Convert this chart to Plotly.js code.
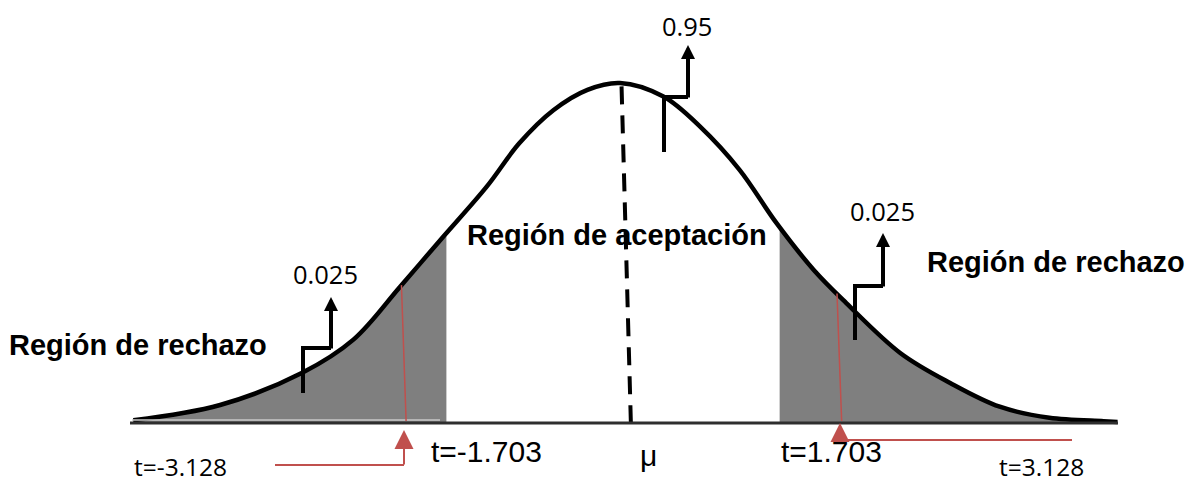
<!DOCTYPE html>
<html>
<head>
<meta charset="utf-8">
<script src="https://cdn.plot.ly/plotly-3.0.1.min.js"></script>
<style>
  html, body { margin: 0; padding: 0; background: #fff; }
  #chart { width: 1191px; height: 483px; }
</style>
</head>
<body>
<div id="chart"></div>
<script>
// Curva (x en desviaciones, y = densidad)
var zCurve = [-3.14, -2.58, -2.05, -1.72, -1.42, -1.16, -0.86, -0.65, -0.43, -0.21, 0,
              0.28, 0.52, 0.77, 1.01, 1.25, 1.46, 1.81, 2.13, 2.45, 2.77, 3.12, 3.21];
var densCurve = [0.002, 0.020, 0.058, 0.097, 0.159, 0.214, 0.277, 0.328, 0.367, 0.391, 0.399,
                 0.383, 0.347, 0.297, 0.234, 0.179, 0.140, 0.081, 0.046, 0.018, 0.005, 0.001, 0.000];

// limites de las regiones de rechazo (como estan dibujados)
var critLow = -1.12, critHigh = 1.03;
// marcas rojas de t
var tMarks = [-1.41, 1.40];

var tLabels = ['t=-3.128', 't=-1.703', 'μ', 't=1.703', 't=3.128'];
var probLabels = ['0.025', '0.95', '0.025'];
var regionLabels = ['Región de rechazo', 'Región de aceptación', 'Región de rechazo'];

var W = 1191, H = 483;
// escala: pixel <-> datos
var X0 = 620, SX = 155, Y0 = 422, SY = 0.399 / 339;
function dx(p) { return (p - X0) / SX; }
function dy(p) { return (Y0 - p) * SY; }
function px(p) { return p / W; }
function py(p) { return 1 - p / H; }

function interp(z) {
  for (var i = 0; i < zCurve.length - 1; i++) {
    if (z >= zCurve[i] && z <= zCurve[i + 1]) {
      var f = (z - zCurve[i]) / (zCurve[i + 1] - zCurve[i]);
      return densCurve[i] + f * (densCurve[i + 1] - densCurve[i]);
    }
  }
  return 0;
}

// colas sombreadas
var lx = [], ly = [], rx = [critHigh], ry = [interp(critHigh)];
zCurve.forEach(function (z, i) {
  if (z < critLow) { lx.push(z); ly.push(densCurve[i]); }
  if (z > critHigh) { rx.push(z); ry.push(densCurve[i]); }
});
lx.push(critLow); ly.push(interp(critLow));

var GREY = '#7f7f7f', RED = '#c0504d';

var data = [
  { x: lx, y: ly, type: 'scatter', mode: 'lines', fill: 'tozeroy', fillcolor: GREY,
    line: { width: 0, shape: 'spline' }, hoverinfo: 'skip' },
  { x: rx, y: ry, type: 'scatter', mode: 'lines', fill: 'tozeroy', fillcolor: GREY,
    line: { width: 0, shape: 'spline' }, hoverinfo: 'skip' },
  { x: zCurve, y: densCurve, type: 'scatter', mode: 'lines',
    line: { color: '#000', width: 4.5, shape: 'spline', smoothing: 1 } },
  // linea de la media
  { x: [0.01, 0.07], y: [interp(0) - 0.004, 0], type: 'scatter', mode: 'lines',
    line: { color: '#000', width: 4, dash: '18px,11px' } }
];

var shapes = [
  // eje horizontal
  { type: 'line', xref: 'x', yref: 'y', x0: dx(130), x1: dx(1118), y0: dy(423), y1: dy(423),
    line: { color: '#2e2e2e', width: 3 } },
  { type: 'line', xref: 'x', yref: 'y', x0: dx(132), x1: dx(440), y0: dy(420), y1: dy(420),
    line: { color: '#c8c8c8', width: 1.5 } }
];

// lineas rojas en t
tMarks.forEach(function (t) {
  shapes.push({ type: 'line', xref: 'x', yref: 'y', x0: t, y0: interp(t), x1: t + 0.03, y1: dy(421),
    line: { color: RED, width: 1.5 } });
});
// conectores rojos
shapes.push({ type: 'path', xref: 'x', yref: 'y',
  path: 'M' + dx(275) + ',' + dy(465) + ' L' + dx(404) + ',' + dy(465),
  line: { color: RED, width: 2 } });
shapes.push({ type: 'path', xref: 'x', yref: 'y',
  path: 'M' + dx(1072) + ',' + dy(440) + ' L' + dx(840) + ',' + dy(440),
  line: { color: RED, width: 2 } });

// llamadas negras en escalon
function elbow(x1, yb, ym, x2) {
  shapes.push({ type: 'path', xref: 'x', yref: 'y', fillcolor: 'rgba(0,0,0,0)',
    path: 'M' + dx(x1) + ',' + dy(yb) + ' L' + dx(x1) + ',' + dy(ym) + ' L' + dx(x2) + ',' + dy(ym),
    line: { color: '#000', width: 4 } });
}
elbow(303, 393, 348, 331);
elbow(664, 152, 97, 688);
elbow(855, 340, 286, 883);

var annotations = [];
function arrow(x, yTail, yTip, color, w, size) {
  annotations.push({ x: dx(x), y: dy(yTip), ax: dx(x), ay: dy(yTail), axref: 'x', ayref: 'y',
    xref: 'x', yref: 'y', text: '', showarrow: true, arrowhead: 2, arrowsize: size,
    arrowwidth: w, arrowcolor: color, standoff: 0, startstandoff: 0 });
}
arrow(331, 350, 297, '#000', 4, 0.7);
arrow(688, 99, 45, '#000', 4, 0.7);
arrow(883, 288, 233, '#000', 4, 0.7);
arrow(404, 466, 430, RED, 2, 1.9);
arrow(840, 441, 423, RED, 2, 1.9);

function label(text, x, y, anchor, font) {
  annotations.push({ text: text, x: px(x), y: py(y), xref: 'paper', yref: 'paper',
    xanchor: anchor, yanchor: 'middle', showarrow: false, borderpad: 0, font: font });
}
var boldF = { family: 'Liberation Sans, Arial, sans-serif', size: 29, color: '#000' };
var numF = { family: 'Open Sans, sans-serif', size: 25.5, color: '#000' };
var smallF = { family: 'Open Sans, sans-serif', size: 24.5, color: '#000' };
var axF = { family: 'Liberation Sans, Arial, sans-serif', size: 30, color: '#000' };

label('<b>' + regionLabels[0] + '</b>', 8, 345, 'left', boldF);
label('<b>' + regionLabels[1] + '</b>', 466, 235, 'left', boldF);
label('<b>' + regionLabels[2] + '</b>', 926, 262, 'left', boldF);

label(probLabels[0], 325, 274, 'center', numF);
label(probLabels[1], 687, 26, 'center', numF);
label(probLabels[2], 882, 211, 'center', numF);

label(tLabels[0], 133, 466, 'left', smallF);
label(tLabels[1], 430, 451, 'left', axF);
label(tLabels[2], 648, 455, 'center', axF);
label(tLabels[3], 780, 451, 'left', axF);
label(tLabels[4], 998, 466, 'left', smallF);

var layout = {
  width: W, height: H,
  margin: { l: 0, r: 0, t: 0, b: 0 },
  paper_bgcolor: '#fff', plot_bgcolor: '#fff',
  showlegend: false,
  xaxis: { range: [dx(0), dx(W)], visible: false, fixedrange: true },
  yaxis: { range: [dy(H), dy(0)], visible: false, fixedrange: true },
  shapes: shapes,
  annotations: annotations
};

Plotly.newPlot('chart', data, layout, { staticPlot: true });
</script>
</body>
</html>
